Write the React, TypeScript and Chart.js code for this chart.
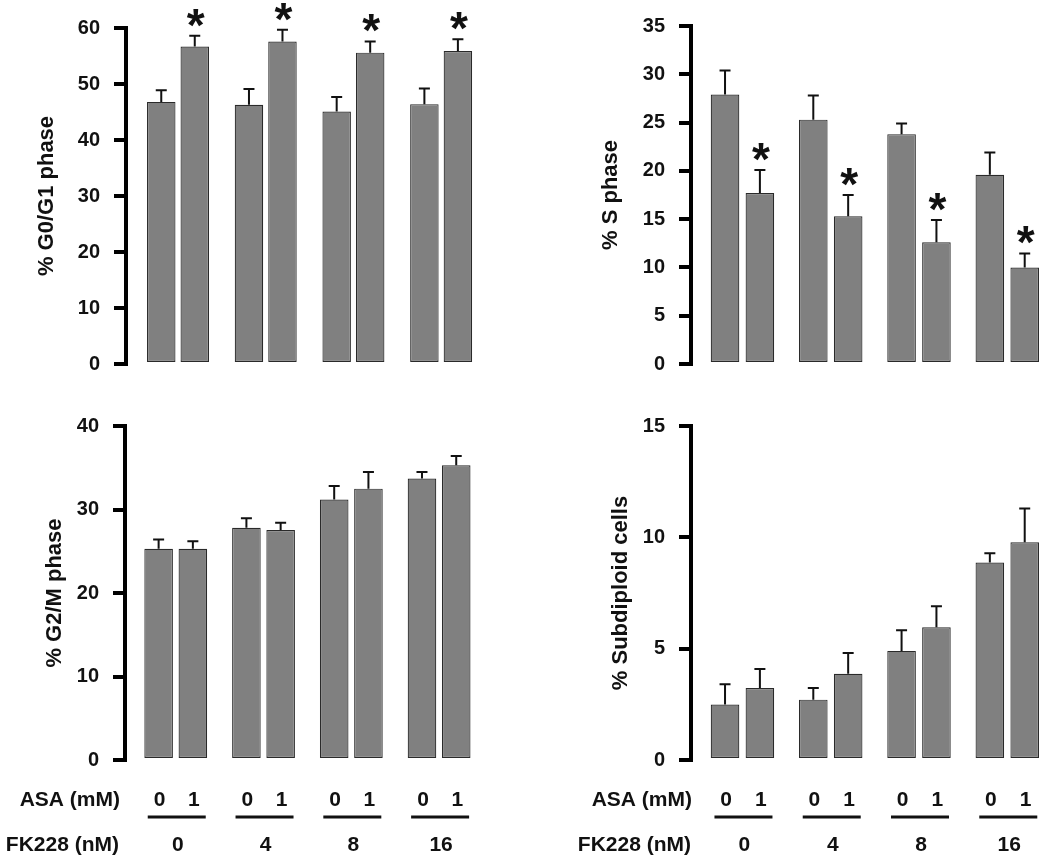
import React, { useEffect, useRef } from 'react';
import { Chart, registerables } from 'chart.js';

Chart.register(...registerables);

// ---------- data ----------
const FK228_DOSES = ['0', '4', '8', '16'];
const ASA_DOSES = ['0', '1'];

const G0G1_ASA0 = [46.8, 46.3, 45.1, 46.4];
const G0G1_ASA0_SEM = [2.1, 2.8, 2.6, 2.8];
const G0G1_ASA1 = [56.7, 57.6, 55.6, 55.9];
const G0G1_ASA1_SEM = [1.9, 2.1, 2.0, 2.1];

const S_ASA0 = [27.9, 25.3, 23.8, 19.6];
const S_ASA0_SEM = [2.5, 2.5, 1.1, 2.3];
const S_ASA1 = [17.7, 15.3, 12.6, 10.0];
const S_ASA1_SEM = [2.4, 2.2, 2.3, 1.45];

const G2M_ASA0 = [25.3, 27.8, 31.2, 33.7];
const G2M_ASA0_SEM = [1.1, 1.15, 1.6, 0.8];
const G2M_ASA1 = [25.3, 27.55, 32.5, 35.3];
const G2M_ASA1_SEM = [0.9, 0.85, 2.0, 1.1];

const SUB_ASA0 = [2.49, 2.71, 4.9, 8.87];
const SUB_ASA0_SEM = [0.91, 0.52, 0.93, 0.42];
const SUB_ASA1 = [3.23, 3.87, 5.96, 9.78];
const SUB_ASA1_SEM = [0.86, 0.94, 0.94, 1.51];

// significance marks per ASA series
const G0G1_STARS = [false, true];
const S_STARS = [false, true];
const NO_STARS = [false, false];

const FONT = "Arial, 'Liberation Sans', Helvetica, sans-serif";

const annotatePlugin = {
  id: 'annotate',
  afterDatasetsDraw(chart: any, _args: any, opts: any) {
    const ctx = chart.ctx;
    const y = chart.scales.y;
    chart.data.datasets.forEach((ds: any, di: number) => {
      const meta = chart.getDatasetMeta(di);
      meta.data.forEach((bar: any, j: number) => {
        const v = ds.data[j].y;
        const top = y.getPixelForValue(v + opts.sems[di][j]);
        ctx.save();
        ctx.strokeStyle = '#111';
        ctx.lineWidth = 2;
        ctx.beginPath();
        ctx.moveTo(bar.x, bar.y);
        ctx.lineTo(bar.x, top);
        ctx.moveTo(bar.x - 5.5, top);
        ctx.lineTo(bar.x + 5.5, top);
        ctx.stroke();
        if (opts.stars[di]) {
          ctx.fillStyle = '#111';
          ctx.font = `bold 46px ${FONT}`;
          ctx.textAlign = 'center';
          ctx.textBaseline = 'alphabetic';
          ctx.fillText('*', bar.x + 1, top - 22 + 27);
        }
        ctx.restore();
      });
    });
    if (opts.labels) {
      const area = chart.chartArea;
      const x = chart.scales.x;
      const rowA = area.bottom + 40;
      const lineY = area.bottom + 57;
      const rowB = area.bottom + 85;
      ctx.save();
      ctx.fillStyle = '#111';
      ctx.font = `bold 21px ${FONT}`;
      ctx.textBaseline = 'middle';
      ctx.textAlign = 'right';
      ctx.fillText('ASA (mM)', opts.labelX, rowA);
      ctx.fillText('FK228 (nM)', opts.labelX - 1, rowB);
      ctx.textAlign = 'center';
      chart.data.datasets.forEach((_ds: any, di: number) => {
        const meta = chart.getDatasetMeta(di);
        meta.data.forEach((bar: any) => {
          ctx.fillText(ASA_DOSES[di], bar.x + 1, rowA);
        });
      });
      FK228_DOSES.forEach((d, j) => {
        const cx = x.getPixelForValue(j);
        ctx.fillText(d, cx + 2, rowB);
        ctx.strokeStyle = '#111';
        ctx.lineWidth = 3;
        ctx.beginPath();
        ctx.moveTo(cx - 28, lineY);
        ctx.lineTo(cx + 30, lineY);
        ctx.stroke();
      });
      ctx.restore();
    }
  },
};

type Geo = {
  left: number; top: number; width: number; height: number;
  padL: number; padR: number; padT: number; padB: number;
  yWidth: number; titlePad: number; xMin: number; xMax: number;
  cat: number; bar: number; labelX?: number;
};

function Panel(props: {
  title: string; values: number[][]; sems: number[][]; stars: boolean[];
  yMax: number; yStep: number; geo: Geo; labels: boolean;
}) {
  const ref = useRef<HTMLCanvasElement>(null);
  useEffect(() => {
    const { geo } = props;
    const chart = new Chart(ref.current as HTMLCanvasElement, {
      type: 'bar',
      data: {
        datasets: props.values.map((vals, di) => ({
          label: `ASA ${ASA_DOSES[di]}`,
          data: vals.map((v, j) => ({ x: j, y: v })),
          backgroundColor: '#808080',
          borderColor: '#2a2a2a',
          borderWidth: 1.2,
          borderSkipped: false,
          categoryPercentage: geo.cat,
          barPercentage: geo.bar,
        })),
      },
      options: {
        responsive: false,
        animation: false,
        devicePixelRatio: 1,
        layout: { padding: { left: geo.padL, right: geo.padR, top: geo.padT, bottom: geo.padB } },
        plugins: {
          legend: { display: false },
          tooltip: { enabled: false },
          annotate: { sems: props.sems, stars: props.stars, labels: props.labels, labelX: geo.labelX },
        } as any,
        scales: {
          x: {
            type: 'linear',
            display: false,
            offset: false,
            min: geo.xMin,
            max: geo.xMax,
            ticks: { stepSize: 1, includeBounds: false },
            afterBuildTicks: (s: any) => {
              s.ticks = FK228_DOSES.map((_d, j) => ({ value: j }));
            },
          },
          y: {
            min: 0,
            max: props.yMax,
            afterFit: (s: any) => { s.width = geo.yWidth; },
            ticks: {
              stepSize: props.yStep,
              padding: 14,
              color: '#111',
              font: { family: FONT, size: 20, weight: 'bold' },
            },
            grid: {
              drawOnChartArea: false,
              drawTicks: true,
              tickLength: 12,
              tickWidth: 4,
              tickColor: '#000',
              color: '#000',
              lineWidth: 4,
            },
            border: { display: true, width: 4, color: '#000' },
            title: {
              display: true,
              text: props.title,
              color: '#111',
              font: { family: FONT, size: 22, weight: 'bold' },
              padding: { top: geo.titlePad, bottom: 0 },
            },
          },
        },
      } as any,
      plugins: [annotatePlugin as any],
    });
    return () => chart.destroy();
  }, []);
  const g = props.geo;
  return (
    <canvas
      ref={ref}
      width={g.width}
      height={g.height}
      style={{ position: 'absolute', left: g.left, top: g.top, width: g.width, height: g.height }}
    />
  );
}

const TL: Geo = { left: 0, top: 0, width: 525, height: 390, padL: 0, padR: 40, padT: 28, padB: 22, yWidth: 126, titlePad: 34, xMin: -0.593, xMax: 3.5, cat: 0.764, bar: 0.85 };
const TR: Geo = { left: 525, top: 0, width: 525, height: 390, padL: 40, padR: 3, padT: 25, padB: 22, yWidth: 126, titlePad: 33, xMin: -0.583, xMax: 3.45, cat: 0.79, bar: 0.82 };
const BL: Geo = { left: 0, top: 400, width: 525, height: 457, padL: 0, padR: 42, padT: 19, padB: 97, yWidth: 125, titlePad: 42, xMin: -0.578, xMax: 3.5, cat: 0.78, bar: 0.835, labelX: 120 };
const BR: Geo = { left: 525, top: 400, width: 525, height: 457, padL: 40, padR: 3, padT: 15, padB: 97, yWidth: 126, titlePad: 43, xMin: -0.583, xMax: 3.45, cat: 0.79, bar: 0.82, labelX: 167 };

export default function App() {
  return (
    <div style={{ position: 'absolute', left: 0, top: 0, width: 1050, height: 857, background: '#fff', overflow: 'hidden' }}>
      <Panel title="% G0/G1 phase" values={[G0G1_ASA0, G0G1_ASA1]} sems={[G0G1_ASA0_SEM, G0G1_ASA1_SEM]} stars={G0G1_STARS} yMax={60} yStep={10} geo={TL} labels={false} />
      <Panel title="% S phase" values={[S_ASA0, S_ASA1]} sems={[S_ASA0_SEM, S_ASA1_SEM]} stars={S_STARS} yMax={35} yStep={5} geo={TR} labels={false} />
      <Panel title="% G2/M phase" values={[G2M_ASA0, G2M_ASA1]} sems={[G2M_ASA0_SEM, G2M_ASA1_SEM]} stars={NO_STARS} yMax={40} yStep={10} geo={BL} labels={true} />
      <Panel title="% Subdiploid cells" values={[SUB_ASA0, SUB_ASA1]} sems={[SUB_ASA0_SEM, SUB_ASA1_SEM]} stars={NO_STARS} yMax={15} yStep={5} geo={BR} labels={true} />
    </div>
  );
}
